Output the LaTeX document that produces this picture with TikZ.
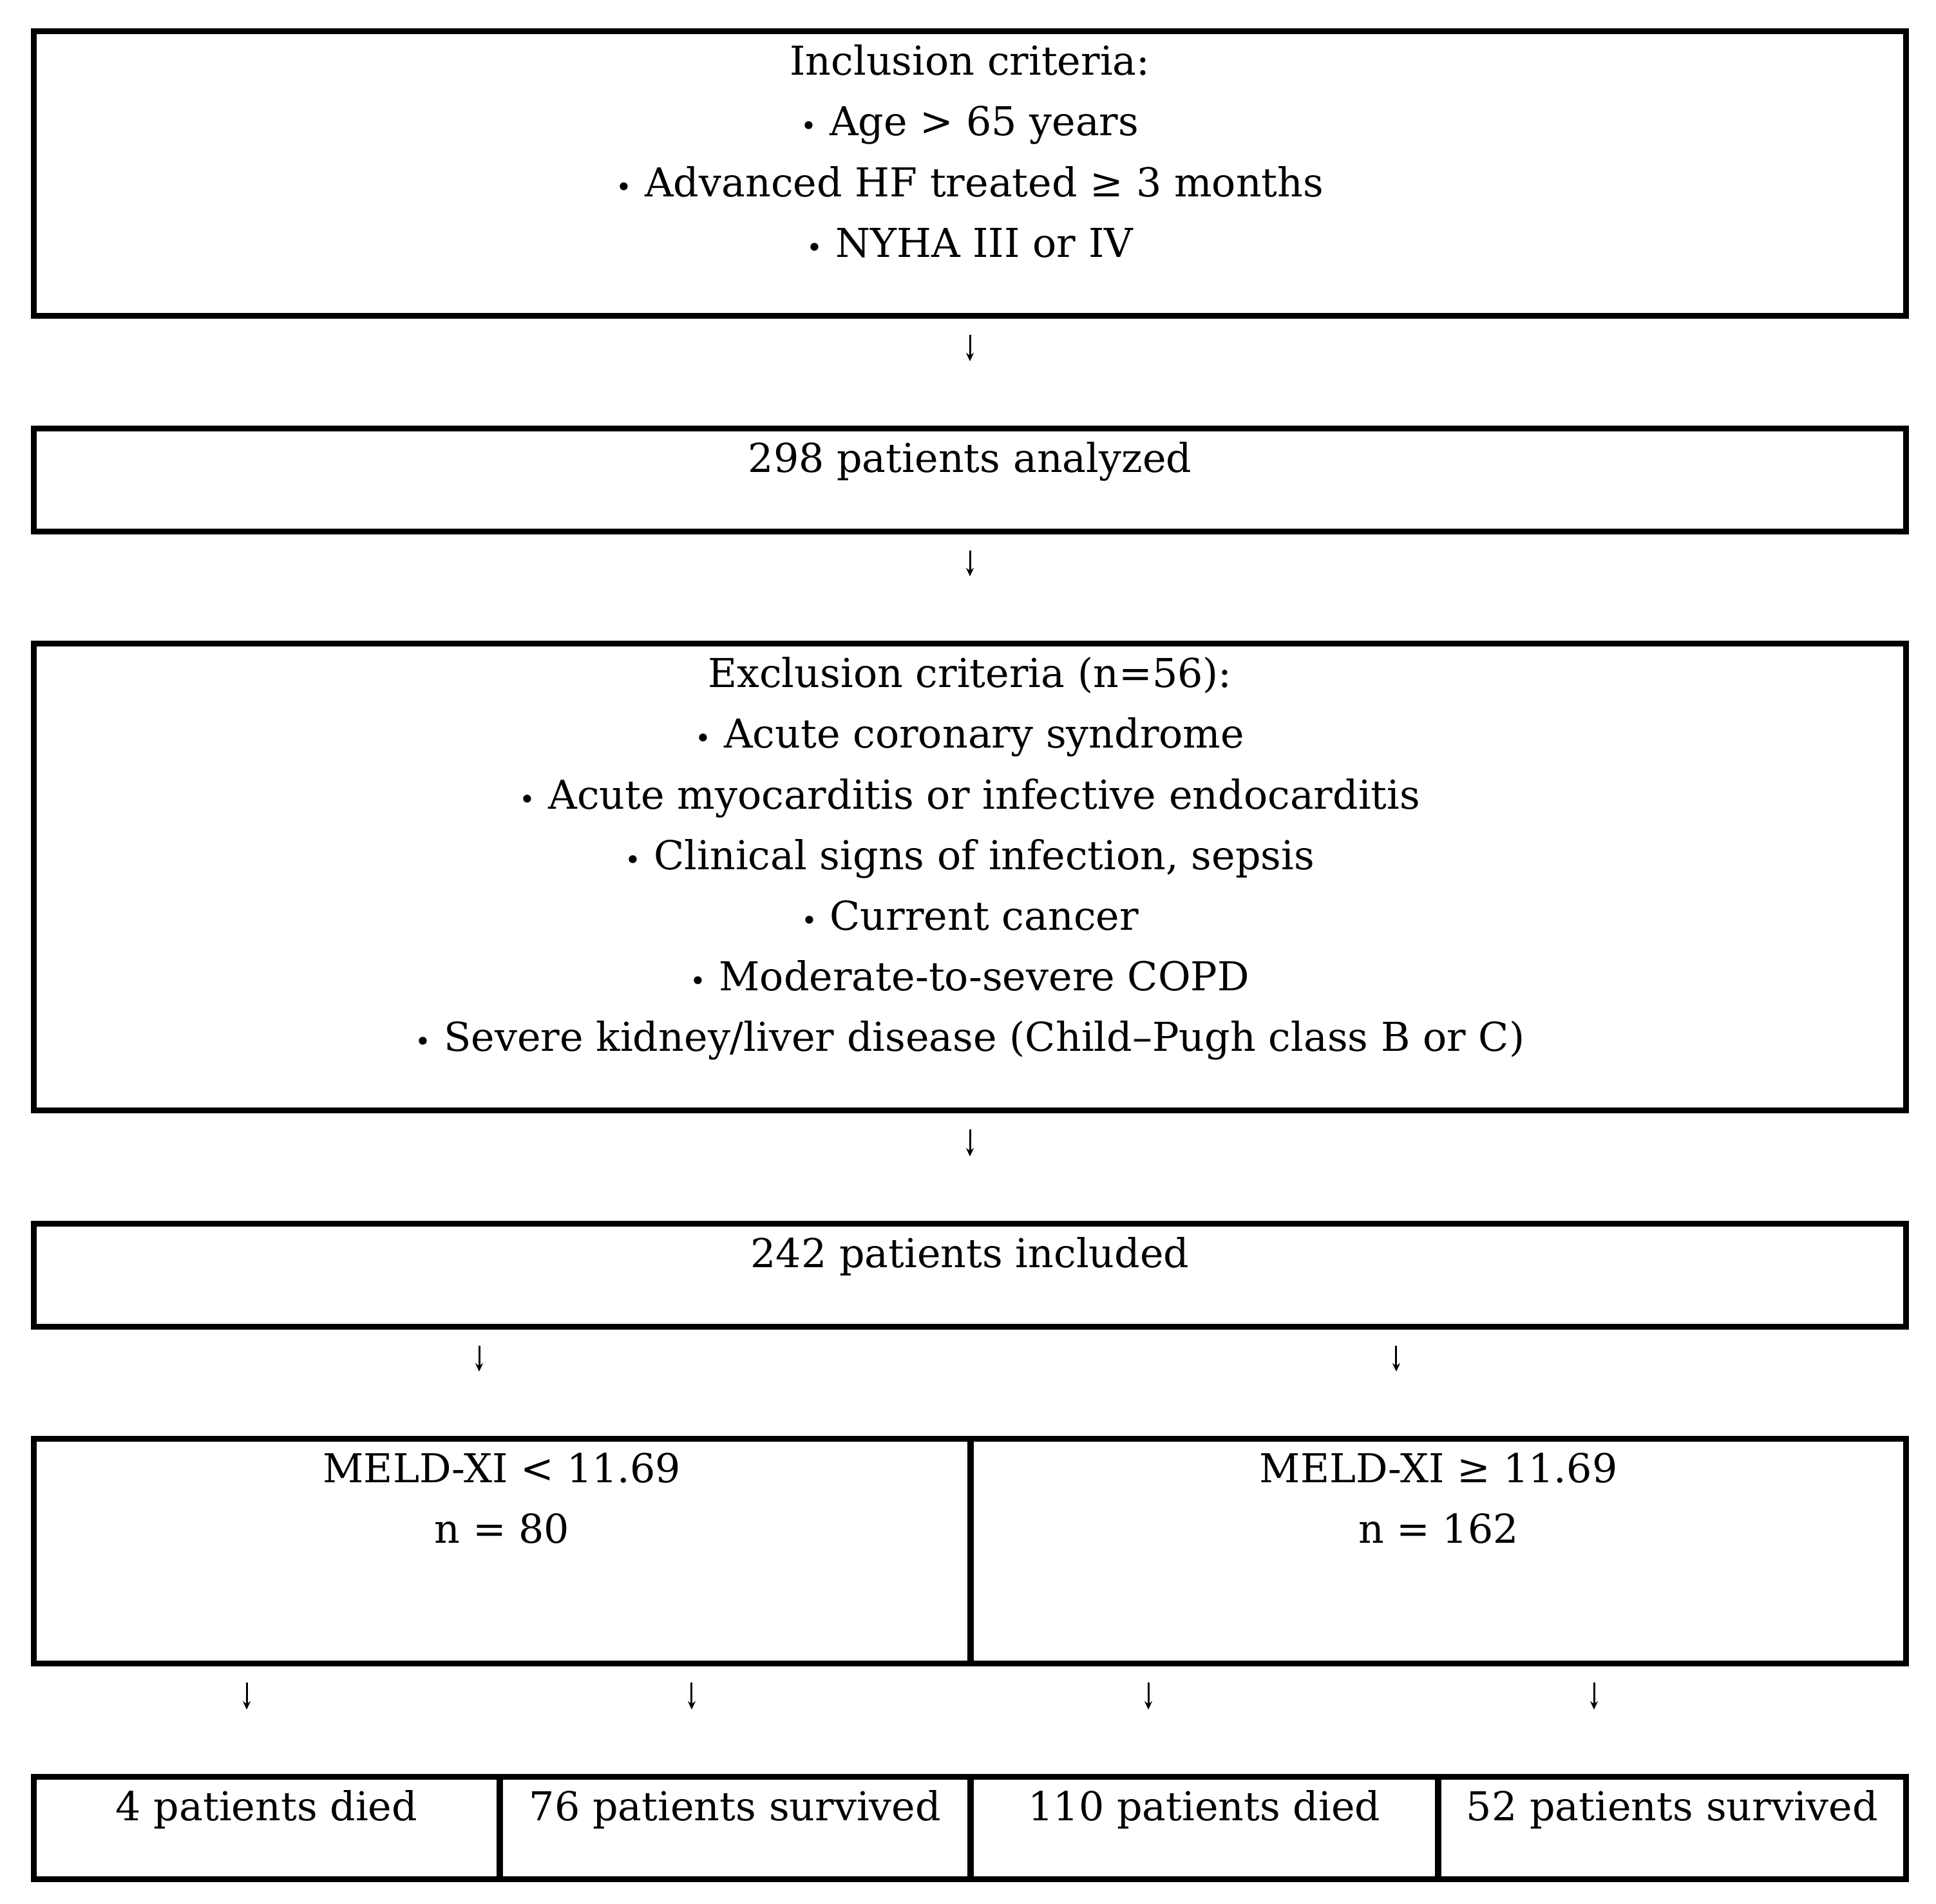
\documentclass[tikz,border=0pt]{standalone}
\usepackage{fontspec}
\setmainfont{DejaVu Serif}
\usetikzlibrary{arrows.meta, positioning, calc}

\newcommand{\bul}{{\fontsize{12}{12}\selectfont •}}

\begin{document}
\begin{tikzpicture}[
  box/.style={draw=black, line width=0.9mm, inner sep=0pt},
  txt/.style={anchor=north, inner sep=0pt, align=center, font=\fontsize{17.6}{26.8}\selectfont},
  arr/.style={-{Stealth[length=1.3mm, width=1.2mm]}, line width=0.3mm, shorten <=2.5mm, shorten >=10mm}
]
  \useasboundingbox (0,0) rectangle (30.06,-29.57);

  % Inclusion criteria
  \node[box, minimum width=29.07cm, minimum height=4.42cm] (incl) at (15.06,-2.695) {};
  \node[txt] (incltxt) at ([yshift=-0.6mm]incl.north) {\strut Inclusion criteria:\\
    \bul\ Age > 65 years\\
    \bul\ Advanced HF treated ≥ 3 months\\
    \bul\ NYHA III or IV};

  % Analyzed
  \node[box, minimum width=29.07cm, minimum height=1.60cm] (anal) at (15.06,-7.455) {};
  \node[txt] (analtxt) at ([yshift=-0.6mm]anal.north) {\strut 298 patients analyzed};

  % Exclusion criteria
  \node[box, minimum width=29.07cm, minimum height=7.25cm] (excl) at (15.06,-13.62) {};
  \node[txt] (excltxt) at ([yshift=-0.6mm]excl.north) {\strut Exclusion criteria (n=56):\\
    \bul\ Acute coronary syndrome\\
    \bul\ Acute myocarditis or infective endocarditis\\
    \bul\ Clinical signs of infection, sepsis\\
    \bul\ Current cancer\\
    \bul\ Moderate-to-severe COPD\\
    \bul\ Severe kidney/liver disease (Child–Pugh class B or C)};

  % Included
  \node[box, minimum width=29.07cm, minimum height=1.60cm] (incd) at (15.06,-19.805) {};
  \node[txt] (incdtxt) at ([yshift=-0.6mm]incd.north) {\strut 242 patients included};

  % MELD-XI groups
  \node[box, minimum width=14.54cm, minimum height=3.49cm] (meldlo) at (7.795,-24.09) {};
  \node[box, minimum width=14.52cm, minimum height=3.49cm] (meldhi) at (22.335,-24.09) {};
  \node[txt] (meldlotxt) at ([yshift=-0.6mm]meldlo.north) {\strut MELD-XI < 11.69\\n = 80};
  \node[txt] (meldhitxt) at ([yshift=-0.6mm]meldhi.north) {\strut MELD-XI ≥ 11.69\\n = 162};

  % Outcome
  \node[box, minimum width=7.23cm, minimum height=1.59cm] (died1) at (4.14,-28.39) {};
  \node[box, minimum width=7.30cm, minimum height=1.59cm] (surv1) at (11.415,-28.39) {};
  \node[box, minimum width=7.25cm, minimum height=1.59cm] (died2) at (18.70,-28.39) {};
  \node[box, minimum width=7.26cm, minimum height=1.59cm] (surv2) at (25.965,-28.39) {};
  \node[txt] (died1txt) at ([yshift=-0.6mm]died1.north) {\strut 4 patients died};
  \node[txt] (surv1txt) at ([yshift=-0.6mm]surv1.north) {\strut 76 patients survived};
  \node[txt] (died2txt) at ([yshift=-0.6mm]died2.north) {\strut 110 patients died};
  \node[txt] (surv2txt) at ([yshift=-0.6mm]surv2.north) {\strut 52 patients survived};

  % Arrows
  \draw[arr] (incl.south) -- (anal.north);
  \draw[arr] (anal.south) -- (excl.north);
  \draw[arr] (excl.south) -- (incd.north);

  \coordinate (s1) at ($(incd.south west)!0.2387!(incd.south east)$);
  \coordinate (s2) at ($(incd.south west)!0.727!(incd.south east)$);
  \draw[arr] (s1) -- (s1 |- meldlo.north);
  \draw[arr] (s2) -- (s2 |- meldhi.north);

  \coordinate (t1) at ($(died1.north west)!0.4577!(died1.north east)$);
  \coordinate (t2) at ($(surv1.north west)!0.4086!(surv1.north east)$);
  \coordinate (t3) at ($(died2.north west)!0.3815!(died2.north east)$);
  \coordinate (t4) at ($(surv2.north west)!0.3347!(surv2.north east)$);
  \draw[arr] (t1 |- meldlo.south) -- (t1);
  \draw[arr] (t2 |- meldlo.south) -- (t2);
  \draw[arr] (t3 |- meldhi.south) -- (t3);
  \draw[arr] (t4 |- meldhi.south) -- (t4);
\end{tikzpicture}
\end{document}
